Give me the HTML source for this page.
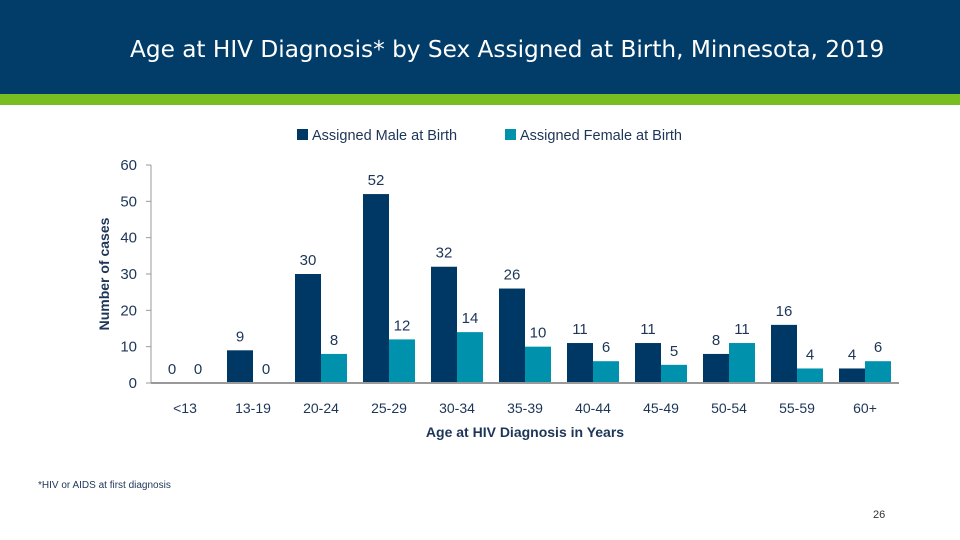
<!DOCTYPE html>
<html><head><meta charset="utf-8"><style>
body{margin:0;width:960px;height:540px;background:#fff;overflow:hidden;font-family:"Liberation Sans",sans-serif;position:relative}
#hdr{position:absolute;left:0;top:0;width:960px;height:94px;background:#023c68}
#grn{position:absolute;left:0;top:94px;width:960px;height:11px;background:#78be21}
#title{position:absolute;left:130px;top:36px;color:#fff;font-family:"DejaVu Sans","Liberation Sans",sans-serif;font-size:23.2px;white-space:nowrap}
#foot{position:absolute;left:38px;top:480px;font-size:10px;color:#1d3557}
#pg{position:absolute;left:873px;top:509px;font-size:11px;color:#333}
</style></head><body>
<div id="hdr"></div>
<div id="grn"></div>
<div id="title">Age at HIV Diagnosis* by Sex Assigned at Birth, Minnesota, 2019</div>
<svg id="chart" width="960" height="540" style="position:absolute;left:0;top:0"></svg>
<div id="foot">*HIV or AIDS at first diagnosis</div>
<div id="pg">26</div>
<script>
const categories=["<13","13-19","20-24","25-29","30-34","35-39","40-44","45-49","50-54","55-59","60+"];
const maleValues=[0,9,30,52,32,26,11,11,8,16,4];
const femaleValues=[0,0,8,12,14,10,6,5,11,4,6];
const yTicks=[0,10,20,30,40,50,60];
const NS="http://www.w3.org/2000/svg";
const svg=document.getElementById('chart');
const x0=151,gw=68,y0=383,yTop=165,yMax=60,bw=26;
const y=v=>y0-(v/yMax)*(y0-yTop);
const gx=i=>x0+gw*i+gw/2;
function mk(t,a,txt){const e=document.createElementNS(NS,t);for(const k in a)e.setAttribute(k,a[k]);if(txt!==undefined)e.textContent=txt;svg.appendChild(e);return e;}
const col="#1d3557",fm="'Liberation Sans',sans-serif";
let e=mk('line',{x1:x0,y1:yTop,x2:x0,y2:y0,stroke:'#999'});

yTicks.forEach(t=>{
 let l=mk('line',{x1:x0-5,y1:y(t),x2:x0,y2:y(t),stroke:'#999'});
 
 let tx=mk('text',{x:x0-14,y:y(t)+5,'text-anchor':'end','font-size':15,fill:col,'font-family':fm},t);
 
});
categories.forEach((c,i)=>{
 const cx=gx(i);
 const mv=maleValues[i],fv=femaleValues[i];
 let r=mk('rect',{x:cx-bw,y:y(mv),width:bw,height:y0-y(mv),fill:'#003865'});
 
 r=mk('rect',{x:cx,y:y(fv),width:bw,height:y0-y(fv),fill:'#0091ad'});
 
 let t=mk('text',{x:cx-bw/2,y:y(mv)-9,'text-anchor':'middle','font-size':15,fill:col,'font-family':fm},mv);
 
 t=mk('text',{x:cx+bw/2,y:y(fv)-9,'text-anchor':'middle','font-size':15,fill:col,'font-family':fm},fv);
 
 t=mk('text',{x:cx,y:413,'text-anchor':'middle','font-size':14,fill:col,'font-family':fm},c);
 
});
e=mk('line',{x1:x0,y1:y0,x2:x0+gw*categories.length,y2:y0,stroke:'#999','stroke-width':2});

e=mk('text',{x:525,y:437,'text-anchor':'middle','font-size':14,'font-weight':'bold',fill:col,'font-family':fm},'Age at HIV Diagnosis in Years');

e=mk('text',{x:0,y:0,transform:'translate(109,274) rotate(-90)','text-anchor':'middle','font-size':14,'font-weight':'bold',fill:col,'font-family':fm},'Number of cases');

e=mk('rect',{x:297,y:129,width:11,height:11,fill:'#003865'});

e=mk('text',{x:312,y:140,'font-size':14.5,fill:col,'font-family':fm},'Assigned Male at Birth');

e=mk('rect',{x:505,y:129,width:11,height:11,fill:'#0091ad'});

e=mk('text',{x:520,y:140,'font-size':14.5,fill:col,'font-family':fm},'Assigned Female at Birth');

</script>
</body></html>
